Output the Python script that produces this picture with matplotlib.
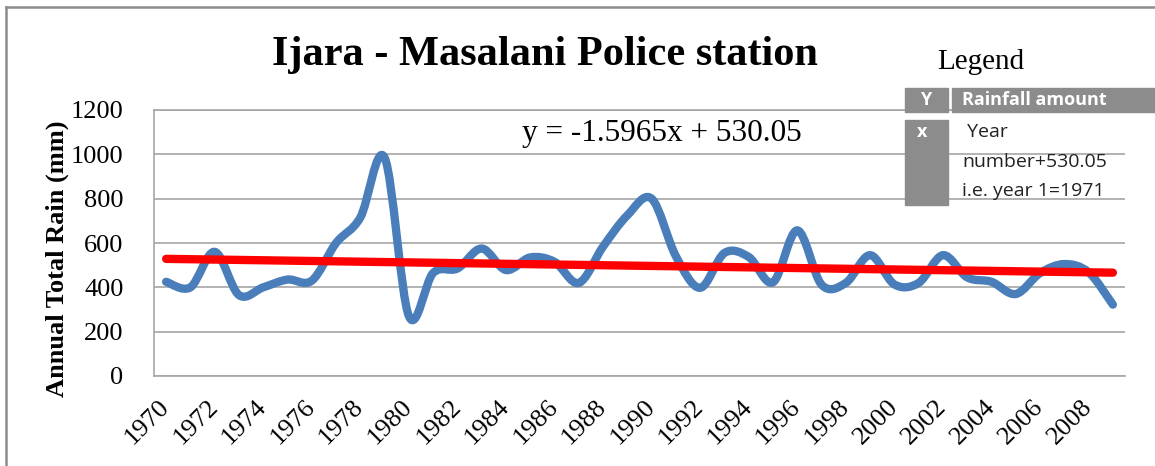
import numpy as np
import matplotlib
matplotlib.use("Agg")
import matplotlib.pyplot as plt
from matplotlib.path import Path
from matplotlib.patches import PathPatch, Rectangle

# ---- data ----
years = list(range(1970, 2010))
rainfall = [425, 400, 560, 365, 400, 435, 430, 600, 715, 985,
            270, 465, 485, 575, 478, 535, 515, 420, 584, 725,
            800, 540, 398, 555, 537, 423, 657, 412, 420, 545,
            413, 420, 545, 445, 425, 370, 464, 505, 468, 322]
trend_slope = -1.5965
trend_intercept = 530.05
tick_years = list(range(1970, 2010, 2))
y_ticks = [0, 200, 400, 600, 800, 1000, 1200]

title = "Ijara - Masalani Police station"
ylabel = "Annual Total Rain (mm)"
equation = "y = -1.5965x + 530.05"
legend_title = "Legend"
legend_header = ("Y", "Rainfall amount")
legend_key = "x"
legend_lines = [" Year", "number+530.05", "i.e. year 1=1971"]

W, H = 1155, 466
fig = plt.figure(figsize=(W / 100, H / 100), dpi=100)

def fx(px):
    return px / W

def fy(py):
    return 1 - py / H

ax = fig.add_axes([fx(154), fy(376), fx(1125) - fx(154), fy(110) - fy(376)])

idx = np.arange(len(years))
vals = np.array(rainfall, dtype=float)

# Excel-style smoothed line (Bezier through points)
def smooth_path(xs, ys):
    n = len(xs)
    pts = np.column_stack([xs, ys])
    verts = [pts[0]]
    codes = [Path.MOVETO]
    for i in range(n - 1):
        p0 = pts[i - 1] if i > 0 else pts[i]
        p1 = pts[i]
        p2 = pts[i + 1]
        p3 = pts[i + 2] if i + 2 < n else pts[i + 1]
        c1 = p1 + (p2 - p0) / 6.0
        c2 = p2 - (p3 - p1) / 6.0
        verts += [c1, c2, p2]
        codes += [Path.CURVE4] * 3
    return Path(verts, codes)

ax.add_patch(PathPatch(smooth_path(idx, vals), facecolor="none",
                       edgecolor="#4A7EBB", lw=6.0, capstyle="round",
                       joinstyle="round", zorder=3))

xn = idx + 1
trend = trend_slope * xn + trend_intercept
ax.plot([idx[0], idx[-1]], [trend[0], trend[-1]], color="#FF0000", lw=6.0,
        solid_capstyle="round", zorder=4)

ax.set_xlim(-0.5, len(years) - 0.5)
ax.set_ylim(0, 1200)
ax.set_yticks(y_ticks)
ax.set_yticklabels([str(v) for v in y_ticks], family="Liberation Serif", fontsize=19)
ax.grid(axis="y", color="#A6A6A6", lw=1.2)
ax.set_axisbelow(True)
tick_pos = [years.index(y) for y in tick_years]
ax.set_xticks(tick_pos)
ax.set_xticklabels([str(y) for y in tick_years], family="Liberation Serif", fontsize=19,
                   rotation=45, ha="right", va="center", rotation_mode="anchor")
ax.tick_params(axis="both", length=0)
ax.tick_params(axis="x", pad=20)
ax.tick_params(axis="y", pad=22)
for s in ["top", "right"]:
    ax.spines[s].set_visible(False)
for s in ["left", "bottom"]:
    ax.spines[s].set_color("#A6A6A6")
    ax.spines[s].set_linewidth(1.2)
ax.axhline(1200, color="#A6A6A6", lw=1.2, zorder=1, clip_on=False)

fig.text(fx(57), fy(259), ylabel, rotation=90, ha="center", va="center",
         family="Liberation Serif", fontweight="bold", fontsize=19)

fig.text(fx(545), fy(55), title, ha="center", va="center",
         family="Liberation Serif", fontweight="bold", fontsize=30.5)
fig.text(fx(662), fy(133), equation, ha="center", va="center",
         family="Liberation Serif", fontsize=22.5)

# legend table
fig.text(fx(981), fy(62), legend_title, ha="center", va="center",
         family="Liberation Serif", fontsize=21)
gray = "#8C8C8C"
fig.patches.append(Rectangle((fx(905), fy(112)), fx(948) - fx(905), fy(88) - fy(112),
                             transform=fig.transFigure, color=gray))
fig.patches.append(Rectangle((fx(952), fy(112)), fx(1155) - fx(952), fy(88) - fy(112),
                             transform=fig.transFigure, color=gray))
fig.patches.append(Rectangle((fx(905), fy(205)), fx(948) - fx(905), fy(120) - fy(205),
                             transform=fig.transFigure, color=gray))
fig.text(fx(926), fy(100), legend_header[0], ha="center", va="center", color="white",
         family="Open Sans", fontweight="bold", fontsize=13)
fig.text(fx(962), fy(100), legend_header[1], ha="left", va="center", color="white",
         family="Open Sans", fontweight="bold", fontsize=13)
fig.text(fx(922), fy(132), legend_key, ha="center", va="center", color="white",
         family="Open Sans", fontweight="bold", fontsize=13)
for line, ypx in zip(legend_lines, [132, 162, 191]):
    fig.text(fx(962), fy(ypx), line, ha="left", va="center", color="#222222",
             family="Open Sans", fontsize=14)

# outer frame
fig.add_artist(plt.Line2D([fx(6), fx(6)], [0, fy(7)], transform=fig.transFigure,
                          color="#8C8C8C", lw=1.8))
fig.add_artist(plt.Line2D([fx(6), 1], [fy(7), fy(7)], transform=fig.transFigure,
                          color="#8C8C8C", lw=1.8))

fig.savefig("out.png", dpi=100)
